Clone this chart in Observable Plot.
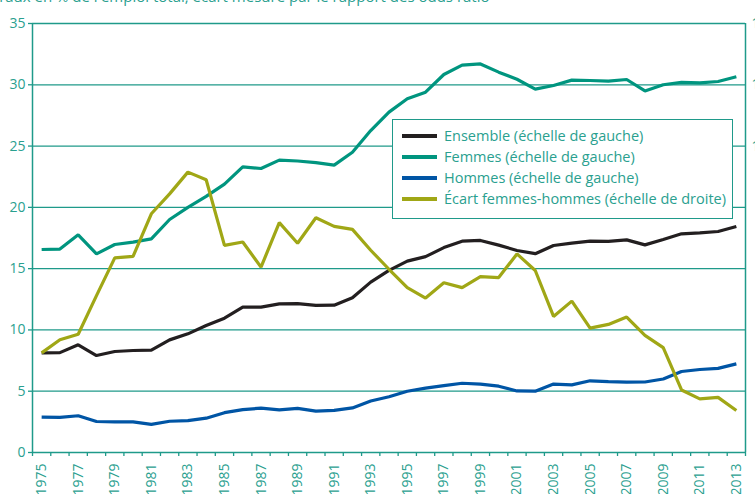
<!DOCTYPE html>
<html>
<head>
<meta charset="utf-8">
<script src="https://cdn.jsdelivr.net/npm/d3@7"></script>
<script src="https://cdn.jsdelivr.net/npm/@observablehq/plot@0.6"></script>
<style>
  html, body { margin: 0; padding: 0; background: #fff; overflow: hidden; }
  #wrap { position: relative; width: 755px; height: 494px; font-family: "Open Sans", sans-serif; }
  #subtitle { position: absolute; left: -3px; top: -13px; font-size: 15px; line-height: 18px; color: #2aa08f; white-space: nowrap; }
  #legend { position: absolute; left: 392px; top: 119px; width: 339px; height: 93px; background: #fff;
            border: 1.3px solid #1f9a8a; box-sizing: content-box; padding-top: 5px; }
  .row { display: flex; align-items: center; height: 21px; font-size: 14.5px; color: #2aa08f; }
  .sw { width: 35px; height: 4px; margin-left: 9px; margin-right: 7px; }
</style>
</head>
<body>
<div id="wrap">
  <div id="chart"></div>
  <div id="subtitle"></div>
  <div id="legend"></div>
</div>
<script>
const years = d3.range(1975, 2014);
const ensemble = [8.13, 8.15, 8.79, 7.91, 8.24, 8.32, 8.35, 9.19, 9.68, 10.36,
  10.96, 11.86, 11.86, 12.12, 12.14, 12.0, 12.02, 12.62, 13.9, 14.86,
  15.61, 15.98, 16.72, 17.24, 17.3, 16.92, 16.48, 16.22, 16.89, 17.08,
  17.24, 17.22, 17.35, 16.94, 17.38, 17.84, 17.92, 18.03, 18.44];
const femmes = [16.56, 16.6, 17.76, 16.21, 16.97, 17.16, 17.43, 19.01, 20.0, 20.9,
  21.9, 23.3, 23.17, 23.85, 23.78, 23.65, 23.45, 24.5, 26.27, 27.77,
  28.86, 29.4, 30.84, 31.6, 31.7, 31.03, 30.45, 29.65, 29.94, 30.38,
  30.35, 30.3, 30.43, 29.5, 30.0, 30.19, 30.16, 30.27, 30.65];
const hommes = [2.88, 2.86, 3.0, 2.53, 2.5, 2.5, 2.3, 2.55, 2.6, 2.8,
  3.25, 3.5, 3.62, 3.48, 3.6, 3.38, 3.43, 3.64, 4.2, 4.55,
  5.0, 5.25, 5.45, 5.65, 5.58, 5.41, 5.02, 5.0, 5.58, 5.52,
  5.85, 5.79, 5.74, 5.75, 6.0, 6.61, 6.77, 6.86, 7.23];
// écart, in units of the right-hand scale
const ecart = [3.25, 3.68, 3.86, 5.12, 6.35, 6.4, 7.79, 8.44, 9.15, 8.9,
  6.76, 6.87, 6.05, 7.5, 6.83, 7.66, 7.38, 7.28, 6.6, 5.98,
  5.38, 5.04, 5.54, 5.38, 5.74, 5.71, 6.48, 5.94, 4.44, 4.94,
  4.06, 4.18, 4.42, 3.82, 3.42, 2.04, 1.75, 1.8, 1.37];

const leftTicks = [0, 5, 10, 15, 20, 25, 30, 35];
const rightFactor = 2.5; // left units per right unit
const labelYears = years.filter(y => y % 2 === 1);
const seriesNames = ["Ensemble (échelle de gauche)", "Femmes (échelle de gauche)", "Hommes (échelle de gauche)", "Écart femmes-hommes (échelle de droite)"];
const seriesColors = ["#231f20", "#00957f", "#0055a5", "#a0a716"];
const subtitle = "Taux en % de l'emploi total, écart mesuré par le rapport des odds ratio";

const teal = "#2aa08f";
const grid = "#1f9a8a";

const table = [];
years.forEach((y, i) => {
  table.push({year: y, value: hommes[i], series: seriesNames[2]});
  table.push({year: y, value: ensemble[i], series: seriesNames[0]});
  table.push({year: y, value: femmes[i], series: seriesNames[1]});
  table.push({year: y, value: ecart[i] * rightFactor, series: seriesNames[3]});
});
const drawOrder = [seriesNames[2], seriesNames[0], seriesNames[1], seriesNames[3]];

const xMin = d3.min(years) - 0.5, xMax = d3.max(years) + 0.5;
const edges = d3.range(xMin, xMax + 0.01, 1);

const chart = Plot.plot({
  width: 755,
  height: 494,
  marginTop: 23,
  marginBottom: 42,
  marginLeft: 32,
  marginRight: 10,
  style: {fontFamily: "'Open Sans', sans-serif", fontSize: "14px", background: "transparent", overflow: "visible"},
  x: {domain: [xMin, xMax], label: null},
  y: {domain: [0, 35], label: null},
  color: {domain: seriesNames, range: seriesColors},
  marks: [
    Plot.gridY(leftTicks, {stroke: grid, strokeOpacity: 1, strokeWidth: 1.3}),
    Plot.ruleX([xMin, xMax], {stroke: grid, strokeWidth: 1.5}),
    Plot.axisY(leftTicks, {anchor: "left", label: null, tickSize: 4, tickPadding: 3, color: teal, stroke: grid, strokeWidth: 1.3, fontSize: 14}),
    Plot.axisY(leftTicks, {anchor: "right", label: null, tickSize: 5, tickPadding: 3, color: teal, stroke: grid, strokeWidth: 1.3, fontSize: 14,
      tickFormat: d => String(d / rightFactor), textAnchor: "end", dx: 14}),
    Plot.axisX(edges, {label: null, tickSize: 4, color: grid, strokeWidth: 1.3, tickFormat: () => ""}),
    Plot.axisX(labelYears, {label: null, tickSize: 0, tickPadding: 11, tickRotate: -90, color: teal, fontSize: 14, tickFormat: d => String(d)}),
    ...drawOrder.map(s => Plot.line(table.filter(d => d.series === s), {
      x: "year", y: "value", stroke: "series", strokeWidth: 3.2, strokeLinejoin: "miter", strokeLinecap: "butt"
    }))
  ]
});
document.getElementById("chart").appendChild(chart);
document.getElementById("subtitle").textContent = subtitle;

const legend = document.getElementById("legend");
seriesNames.forEach((name, i) => {
  const row = document.createElement("div");
  row.className = "row";
  const sw = document.createElement("div");
  sw.className = "sw";
  sw.style.background = seriesColors[i];
  const t = document.createElement("span");
  t.textContent = name;
  row.appendChild(sw);
  row.appendChild(t);
  legend.appendChild(row);
});
</script>
</body>
</html>
